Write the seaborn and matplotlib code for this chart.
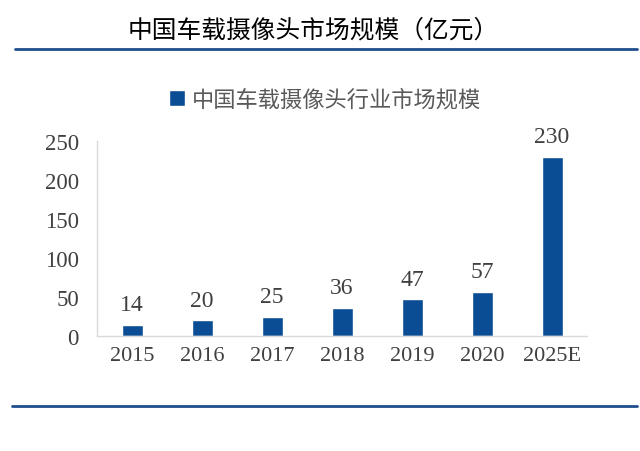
import matplotlib
matplotlib.use('Agg')
import matplotlib.pyplot as plt
import seaborn as sns
from matplotlib.lines import Line2D

years = ['2015', '2016', '2017', '2018', '2019', '2020', '2025E']
market_size = [14, 20, 25, 36, 47, 57, 230]
title_text = '中国车载摄像头市场规模（亿元）'
legend_text = '中国车载摄像头行业市场规模'
yticks = [0, 50, 100, 150, 200, 250]

bar_color = '#0b4d94'
line_color = '#1f4e8c'
grey_text = '#404040'


def main() -> None:
    sns.set_style('white')
    plt.rcParams['font.family'] = ['Liberation Serif', 'DejaVu Serif']

    fig = plt.figure(figsize=(6.4, 4.52), dpi=100)
    ax = fig.add_axes([97/640, 1 - 337/452, 490/640, 195/452])

    sns.barplot(x=years, y=market_size, color=bar_color, width=0.3,
                saturation=1, label=legend_text, ax=ax)
    ax.bar_label(ax.containers[0], padding=7, fontsize=17, color=grey_text)

    ax.set_ylim(0, 250)
    ax.set_yticks(yticks)
    ax.set_xlim(-0.5, len(years) - 0.5)
    ax.tick_params(axis='y', length=0, labelsize=16.5, labelcolor=grey_text, pad=13)
    ax.tick_params(axis='x', which='major', length=0, labelsize=16,
                   labelcolor=grey_text, pad=7)
    ax.set_xticks([i - 0.5 for i in range(len(years) + 1)], minor=True)
    ax.tick_params(axis='x', which='minor', length=4, color='#d9d9d9', width=1)

    for side in ['top', 'right']:
        ax.spines[side].set_visible(False)
    for side in ['left', 'bottom']:
        ax.spines[side].set_color('#d9d9d9')
        ax.spines[side].set_linewidth(1)

    leg = ax.legend(loc='center', bbox_to_anchor=(325/640, 1 - 100/452),
                    bbox_transform=fig.transFigure, frameon=False,
                    handlelength=0.7, handleheight=0.7, handletextpad=0.3,
                    prop={'family': ['Noto Sans CJK SC', 'DejaVu Sans'], 'size': 16})
    for t in leg.get_texts():
        t.set_color('#595959')

    fig.text(313/640, 1 - 31/452, title_text, ha='center', va='center',
             fontsize=17.8, color='black',
             family=['Noto Sans CJK SC', 'DejaVu Sans'])

    # blue rules above and below the chart
    fig.add_artist(Line2D([15/640, 637/640], [1 - 50/452, 1 - 50/452],
                          color=line_color, lw=2))
    fig.add_artist(Line2D([12/640, 637/640], [1 - 407/452, 1 - 407/452],
                          color=line_color, lw=2))

    fig.savefig('out.png', dpi=100)


if __name__ == '__main__':
    main()
